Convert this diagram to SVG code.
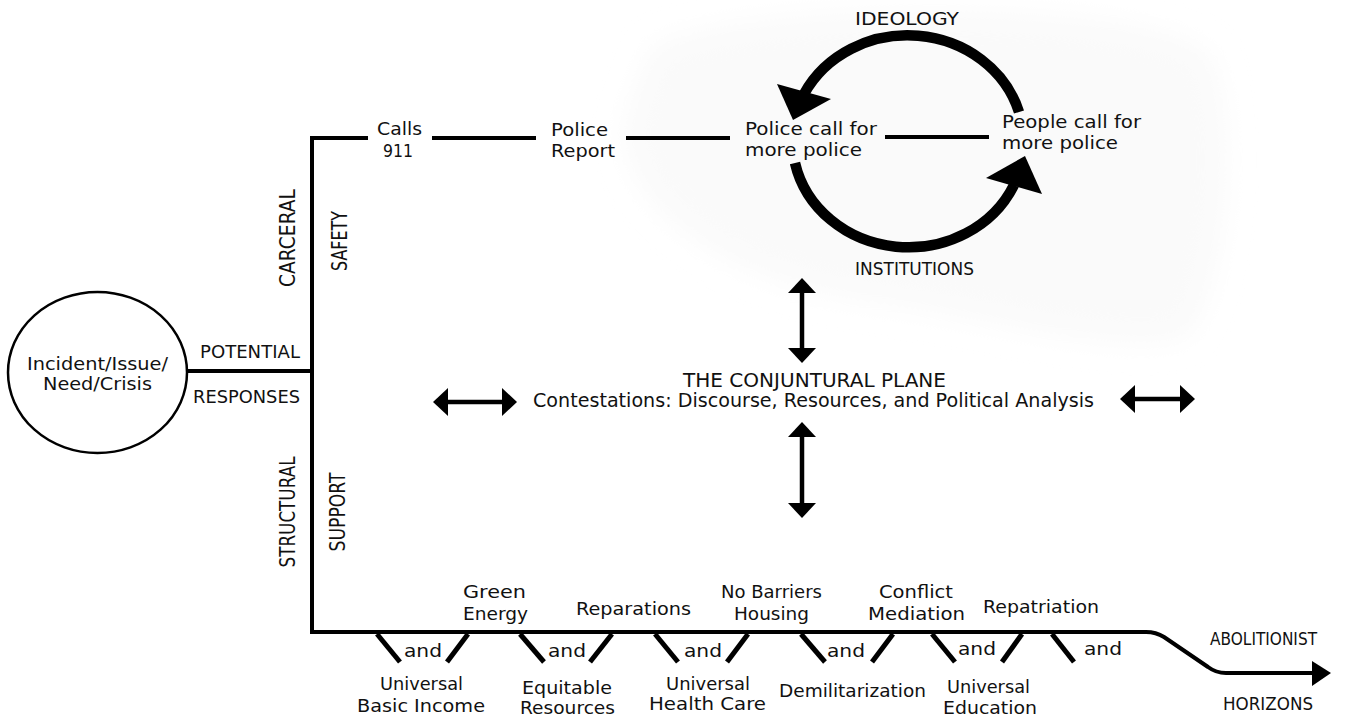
<svg xmlns="http://www.w3.org/2000/svg" width="1346" height="717" viewBox="0 0 1346 717">
<style>
text{font-family:"DejaVu Sans","Liberation Sans",sans-serif;fill:#111;}
.t{font-size:18px;}
.c{font-size:17.5px;}
.v{font-size:22px;}
.m{text-anchor:middle;}
.ln{stroke:#000;stroke-width:4;fill:none;}
.tk{stroke:#000;stroke-width:5;fill:none;}
.arc{stroke:#000;stroke-width:10.5;fill:none;}
.da{stroke:#000;stroke-width:4.5;fill:none;marker-start:url(#ah);marker-end:url(#ah);}
</style>
<defs>
<marker id="ah" viewBox="0 0 15 28" refX="0" refY="14" markerWidth="15" markerHeight="28" markerUnits="userSpaceOnUse" orient="auto-start-reverse">
<path d="M0,0 L15,14 L0,28 Z" fill="#000"/>
</marker>
<filter id="blur" x="-20%" y="-20%" width="140%" height="140%"><feGaussianBlur stdDeviation="14"/></filter>
</defs>
<rect width="1346" height="717" fill="#fff"/>
<path d="M650,50 C720,0 1150,-5 1210,55 C1240,120 1225,300 1185,338 C1120,355 1000,320 860,300 C720,280 615,200 625,120 Z" fill="#fafafa" filter="url(#blur)"/>

<g id="connectors">
<line class="ln" x1="187" y1="371" x2="314" y2="371"/>
<polyline class="ln" points="368,138 312,138 312,632"/>
<line class="ln" x1="432" y1="138" x2="536" y2="138"/>
<line class="ln" x1="626" y1="138" x2="730" y2="138"/>
<line class="ln" x1="885" y1="137" x2="989" y2="137"/>
<path class="arc" d="M1019,112 A116,106.5 0 0 0 804,94"/>
<polygon points="793,120 777,84 831,99" fill="#000"/>
<path class="arc" d="M795,163 A116,106.5 0 0 0 1014,185"/>
<polygon points="1025,156 986,178 1042,194" fill="#000"/>
<line class="da" x1="802" y1="293" x2="802" y2="348"/>
<line class="da" x1="802" y1="437" x2="802" y2="503"/>
<line class="da" x1="448" y1="402" x2="502" y2="402"/>
<line class="da" x1="1135" y1="399" x2="1180" y2="399"/>
<path class="ln" d="M310,632 L1146,632 Q1156,632 1164,637 L1208,667 Q1216,673 1226,673 L1313,673"/>
<polygon points="1312,661 1331,673 1312,686" fill="#000"/>
<g id="ticks">
<line class="tk" x1="377" y1="634" x2="400" y2="662"/>
<line class="tk" x1="468" y1="634" x2="447" y2="662"/>
<line class="tk" x1="520" y1="634" x2="544" y2="662"/>
<line class="tk" x1="612" y1="634" x2="590" y2="662"/>
<line class="tk" x1="655" y1="634" x2="678" y2="662"/>
<line class="tk" x1="748" y1="634" x2="727" y2="662"/>
<line class="tk" x1="801" y1="634" x2="825" y2="662"/>
<line class="tk" x1="893" y1="634" x2="872" y2="662"/>
<line class="tk" x1="932" y1="634" x2="955" y2="662"/>
<line class="tk" x1="1022" y1="634" x2="1002" y2="662"/>
<line class="tk" x1="1052" y1="634" x2="1074" y2="662"/>
</g>
</g>

<g id="incident">
<ellipse cx="97.5" cy="372.5" rx="89.5" ry="80.5" fill="#fff" stroke="#000" stroke-width="2.5"/>
<text class="t m" x="97.5" y="370" textLength="141" lengthAdjust="spacingAndGlyphs">Incident/Issue/</text>
<text class="t m" x="97.5" y="390" textLength="109" lengthAdjust="spacingAndGlyphs">Need/Crisis</text>
</g>

<g id="potential-responses">
<text class="c" x="200" y="358" textLength="100" lengthAdjust="spacingAndGlyphs">POTENTIAL</text>
<text class="c" x="193" y="403" textLength="107" lengthAdjust="spacingAndGlyphs">RESPONSES</text>
</g>

<g id="side-labels">
<text class="v m" transform="translate(295,238) rotate(-90)" textLength="98" lengthAdjust="spacingAndGlyphs">CARCERAL</text>
<text class="v m" transform="translate(347,241) rotate(-90)" textLength="60" lengthAdjust="spacingAndGlyphs">SAFETY</text>
<text class="v m" transform="translate(295,512) rotate(-90)" textLength="111" lengthAdjust="spacingAndGlyphs">STRUCTURAL</text>
<text class="v m" transform="translate(345,512) rotate(-90)" textLength="79" lengthAdjust="spacingAndGlyphs">SUPPORT</text>
</g>

<g id="calls911">
<text class="t m" x="399.5" y="135" textLength="45" lengthAdjust="spacingAndGlyphs">Calls</text>
<text class="t m" x="398" y="157" textLength="30" lengthAdjust="spacingAndGlyphs">911</text>
</g>
<g id="police-report">
<text class="t" x="551" y="136" textLength="57" lengthAdjust="spacingAndGlyphs">Police</text>
<text class="t" x="551" y="157" textLength="64" lengthAdjust="spacingAndGlyphs">Report</text>
</g>
<g id="police-call">
<text class="t" x="745" y="135" textLength="132" lengthAdjust="spacingAndGlyphs">Police call for</text>
<text class="t" x="745" y="156" textLength="117" lengthAdjust="spacingAndGlyphs">more police</text>
</g>
<g id="people-call">
<text class="t" x="1002" y="128" textLength="139" lengthAdjust="spacingAndGlyphs">People call for</text>
<text class="t" x="1002" y="149" textLength="116" lengthAdjust="spacingAndGlyphs">more police</text>
</g>
<g id="cycle-labels">
<text class="c m" x="907" y="25" textLength="104" lengthAdjust="spacingAndGlyphs">IDEOLOGY</text>
<text class="c m" x="914.5" y="275" textLength="119" lengthAdjust="spacingAndGlyphs">INSTITUTIONS</text>
</g>

<g id="conjunctural-plane">
<text class="m" style="font-size:19px" x="814.5" y="387" textLength="263" lengthAdjust="spacingAndGlyphs">THE CONJUNTURAL PLANE</text>
<text class="m" style="font-size:19px" x="813.5" y="407" textLength="561" lengthAdjust="spacingAndGlyphs">Contestations: Discourse, Resources, and Political Analysis</text>
</g>

<g id="above-line">
<text class="t m" x="494.5" y="598" textLength="63" lengthAdjust="spacingAndGlyphs">Green</text>
<text class="t m" x="495.5" y="620" textLength="65" lengthAdjust="spacingAndGlyphs">Energy</text>
<text class="t m" x="633.5" y="615" textLength="115" lengthAdjust="spacingAndGlyphs">Reparations</text>
<text class="t m" x="771.5" y="598" textLength="101" lengthAdjust="spacingAndGlyphs">No Barriers</text>
<text class="t m" x="771.5" y="620" textLength="75" lengthAdjust="spacingAndGlyphs">Housing</text>
<text class="t m" x="916" y="598" textLength="74" lengthAdjust="spacingAndGlyphs">Conflict</text>
<text class="t m" x="916.5" y="620" textLength="97" lengthAdjust="spacingAndGlyphs">Mediation</text>
<text class="t m" x="1041" y="613" textLength="116" lengthAdjust="spacingAndGlyphs">Repatriation</text>
</g>

<g id="and-labels">
<text class="t m" x="423" y="657" textLength="38" lengthAdjust="spacingAndGlyphs">and</text>
<text class="t m" x="567" y="657" textLength="38" lengthAdjust="spacingAndGlyphs">and</text>
<text class="t m" x="703" y="657" textLength="38" lengthAdjust="spacingAndGlyphs">and</text>
<text class="t m" x="846" y="657" textLength="38" lengthAdjust="spacingAndGlyphs">and</text>
<text class="t m" x="977" y="655" textLength="38" lengthAdjust="spacingAndGlyphs">and</text>
<text class="t m" x="1103" y="655" textLength="38" lengthAdjust="spacingAndGlyphs">and</text>
</g>

<g id="below-line">
<text class="t m" x="421.5" y="690" textLength="83" lengthAdjust="spacingAndGlyphs">Universal</text>
<text class="t m" x="421" y="712" textLength="128" lengthAdjust="spacingAndGlyphs">Basic Income</text>
<text class="t m" x="567" y="694" textLength="90" lengthAdjust="spacingAndGlyphs">Equitable</text>
<text class="t m" x="567.5" y="714" textLength="95" lengthAdjust="spacingAndGlyphs">Resources</text>
<text class="t m" x="708" y="690" textLength="84" lengthAdjust="spacingAndGlyphs">Universal</text>
<text class="t m" x="707.5" y="710" textLength="117" lengthAdjust="spacingAndGlyphs">Health Care</text>
<text class="t m" x="852.5" y="697" textLength="147" lengthAdjust="spacingAndGlyphs">Demilitarization</text>
<text class="t m" x="988.5" y="693" textLength="83" lengthAdjust="spacingAndGlyphs">Universal</text>
<text class="t m" x="990" y="714" textLength="94" lengthAdjust="spacingAndGlyphs">Education</text>
</g>

<g id="abolitionist">
<text class="c m" x="1263.5" y="645" textLength="107" lengthAdjust="spacingAndGlyphs">ABOLITIONIST</text>
<text class="c m" x="1268" y="710" textLength="90" lengthAdjust="spacingAndGlyphs">HORIZONS</text>
</g>
</svg>
